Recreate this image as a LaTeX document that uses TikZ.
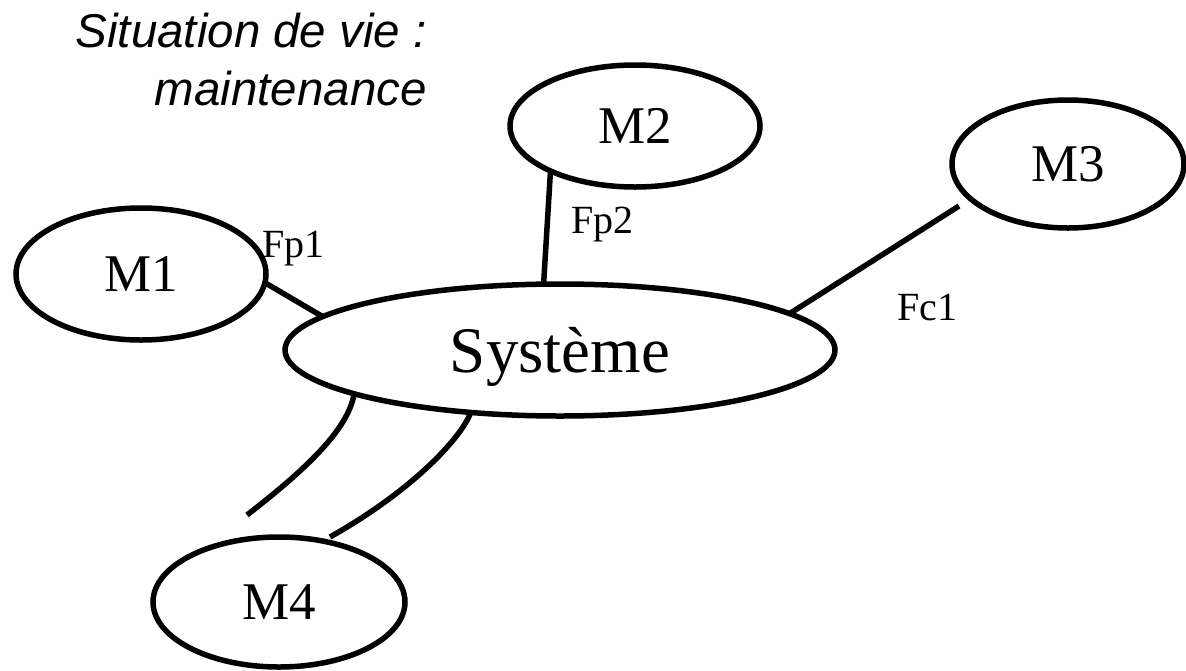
\documentclass[tikz,border=0pt]{standalone}
\usepackage{fontspec}
\setmainfont{Liberation Serif}
\newfontfamily\titlefont{Liberation Sans}
\usetikzlibrary{shapes.geometric}
\begin{document}
\begin{tikzpicture}[x=1pt,y=-1pt,
  ell/.style={draw, ellipse, line width=5.5pt, inner sep=0pt, outer sep=0pt},
  mnode/.style={ell, font=\fontsize{53}{60}\selectfont},
  lbl/.style={inner sep=0pt, anchor=base west, font=\fontsize{40}{48}\selectfont},
  ttl/.style={inner sep=0pt, anchor=base east, font=\titlefont\itshape\fontsize{47.5}{57}\selectfont},
  conn/.style={line width=5.5pt}]
\useasboundingbox (0,0) rectangle (1186,670);
\node[mnode, minimum width=250pt, minimum height=132pt] (m1) at (141,274) {M1};
\node[mnode, minimum width=250pt, minimum height=122pt] (m2) at (635,126) {M2};
\node[mnode, minimum width=232pt, minimum height=128pt] (m3) at (1068,164) {M3};
\node[mnode, minimum width=252pt, minimum height=130pt] (m4) at (279,602) {M4};
\node[ell, minimum width=550pt, minimum height=132pt, font=\fontsize{65}{78}\selectfont, text depth=0pt] (sys) at (560,350) {Système};
\node[ttl] (t1) at (427,47) {Situation de vie :};
\node[ttl] (t2) at (427,105) {maintenance};
\node[lbl] (fp1) at (262,257) {Fp1};
\node[lbl] (fp2) at (571,233) {Fp2};
\node[lbl] (fc1) at (897,320) {Fc1};
\draw[conn] (m1.-4) -- (sys.172.6);
\draw[conn] (m2.208.4) -- (sys.104.4);
\coordinate (m3end) at (959,206);
\draw[conn] (sys.9.6) -- (m3end);
\coordinate (c1end) at (247,515);
\coordinate (c2end) at (330,537);
\draw[conn] (sys.192.3) .. controls (348,430) and (305,470) .. (c1end);
\draw[conn] (sys.215.8) .. controls (460,440) and (410,492) .. (c2end);
\end{tikzpicture}
\end{document}
